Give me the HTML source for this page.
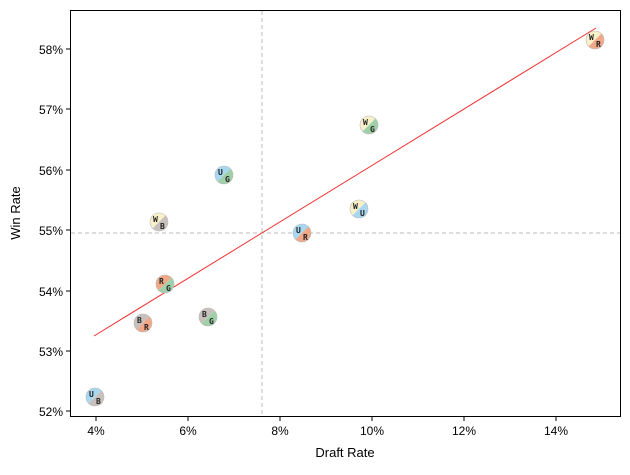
<!DOCTYPE html>
<html><head><style>body{margin:0;background:#fff}svg{font-family:"Liberation Sans","DejaVu Sans",sans-serif}</style></head><body>
<svg width="630" height="470" xmlns="http://www.w3.org/2000/svg">
<rect x="70.5" y="10.5" width="550" height="406" fill="none" stroke="#000" stroke-width="1"/>
<line x1="262" y1="11" x2="262" y2="416" stroke="#bbb" stroke-dasharray="4,3"/>
<line x1="71" y1="233" x2="620" y2="233" stroke="#bbb" stroke-dasharray="4,3"/>
<line x1="94" y1="336" x2="596" y2="28" stroke="#f03030" stroke-width="1"/>
<g font-size="12" fill="#000" text-anchor="middle">
<g stroke="#000"><line x1="96" y1="417" x2="96" y2="421"/><line x1="188" y1="417" x2="188" y2="421"/><line x1="280" y1="417" x2="280" y2="421"/><line x1="372" y1="417" x2="372" y2="421"/><line x1="464" y1="417" x2="464" y2="421"/><line x1="556" y1="417" x2="556" y2="421"/></g>
<text x="96" y="435">4%</text><text x="188" y="435">6%</text><text x="280" y="435">8%</text><text x="372" y="435">10%</text><text x="464" y="435">12%</text><text x="556" y="435">14%</text>
<text x="345" y="457" font-size="13">Draft Rate</text>
</g>
<g font-size="12" text-anchor="end">
<g stroke="#000"><line x1="66" y1="49" x2="70" y2="49"/><line x1="66" y1="109" x2="70" y2="109"/><line x1="66" y1="170" x2="70" y2="170"/><line x1="66" y1="230" x2="70" y2="230"/><line x1="66" y1="291" x2="70" y2="291"/><line x1="66" y1="351" x2="70" y2="351"/><line x1="66" y1="411" x2="70" y2="411"/></g>
<text x="63" y="54">58%</text><text x="63" y="114">57%</text><text x="63" y="175">56%</text><text x="63" y="235">55%</text><text x="63" y="296">54%</text><text x="63" y="356">53%</text><text x="63" y="416">52%</text>
</g>
<text x="20" y="213" font-size="13" text-anchor="middle" transform="rotate(-90 20 213)">Win Rate</text>
<g font-size="8" font-weight="bold" fill="#222" font-family="DejaVu Sans Mono,monospace">
<g transform="translate(95,397)"><path d="M6.4,-6.4A9,9 0 0 0 -6.4,6.4Z" fill="#a8d8f0"/><path d="M6.4,-6.4A9,9 0 0 1 -6.4,6.4Z" fill="#c8c0bc"/><circle r="9" fill="none" stroke="#bbb" stroke-width="0.6"/><text x="-6" y="0">U</text><text x="1" y="7">B</text></g>
<g transform="translate(143,323)"><path d="M6.4,-6.4A9,9 0 0 0 -6.4,6.4Z" fill="#c8c0bc"/><path d="M6.4,-6.4A9,9 0 0 1 -6.4,6.4Z" fill="#f0a888"/><circle r="9" fill="none" stroke="#bbb" stroke-width="0.6"/><text x="-6" y="0">B</text><text x="1" y="7">R</text></g>
<g transform="translate(165,284)"><path d="M6.4,-6.4A9,9 0 0 0 -6.4,6.4Z" fill="#f0a888"/><path d="M6.4,-6.4A9,9 0 0 1 -6.4,6.4Z" fill="#a0d0a8"/><circle r="9" fill="none" stroke="#bbb" stroke-width="0.6"/><text x="-6" y="0">R</text><text x="1" y="7">G</text></g>
<g transform="translate(208,317)"><path d="M6.4,-6.4A9,9 0 0 0 -6.4,6.4Z" fill="#c8c0bc"/><path d="M6.4,-6.4A9,9 0 0 1 -6.4,6.4Z" fill="#a0d0a8"/><circle r="9" fill="none" stroke="#bbb" stroke-width="0.6"/><text x="-6" y="0">B</text><text x="1" y="7">G</text></g>
<g transform="translate(159,222)"><path d="M6.4,-6.4A9,9 0 0 0 -6.4,6.4Z" fill="#f8f0c8"/><path d="M6.4,-6.4A9,9 0 0 1 -6.4,6.4Z" fill="#c8c0bc"/><circle r="9" fill="none" stroke="#bbb" stroke-width="0.6"/><text x="-6" y="0">W</text><text x="1" y="7">B</text></g>
<g transform="translate(224,175)"><path d="M6.4,-6.4A9,9 0 0 0 -6.4,6.4Z" fill="#a8d8f0"/><path d="M6.4,-6.4A9,9 0 0 1 -6.4,6.4Z" fill="#a0d0a8"/><circle r="9" fill="none" stroke="#bbb" stroke-width="0.6"/><text x="-6" y="0">U</text><text x="1" y="7">G</text></g>
<g transform="translate(302,233)"><path d="M6.4,-6.4A9,9 0 0 0 -6.4,6.4Z" fill="#a8d8f0"/><path d="M6.4,-6.4A9,9 0 0 1 -6.4,6.4Z" fill="#f0a888"/><circle r="9" fill="none" stroke="#bbb" stroke-width="0.6"/><text x="-6" y="0">U</text><text x="1" y="7">R</text></g>
<g transform="translate(359,209)"><path d="M6.4,-6.4A9,9 0 0 0 -6.4,6.4Z" fill="#f8f0c8"/><path d="M6.4,-6.4A9,9 0 0 1 -6.4,6.4Z" fill="#a8d8f0"/><circle r="9" fill="none" stroke="#bbb" stroke-width="0.6"/><text x="-6" y="0">W</text><text x="1" y="7">U</text></g>
<g transform="translate(369,125)"><path d="M6.4,-6.4A9,9 0 0 0 -6.4,6.4Z" fill="#f8f0c8"/><path d="M6.4,-6.4A9,9 0 0 1 -6.4,6.4Z" fill="#a0d0a8"/><circle r="9" fill="none" stroke="#bbb" stroke-width="0.6"/><text x="-6" y="0">W</text><text x="1" y="7">G</text></g>
<g transform="translate(595,40)"><path d="M6.4,-6.4A9,9 0 0 0 -6.4,6.4Z" fill="#f8f0c8"/><path d="M6.4,-6.4A9,9 0 0 1 -6.4,6.4Z" fill="#f0a888"/><circle r="9" fill="none" stroke="#bbb" stroke-width="0.6"/><text x="-6" y="0">W</text><text x="1" y="7">R</text></g>
</g>
</svg>
</body></html>
